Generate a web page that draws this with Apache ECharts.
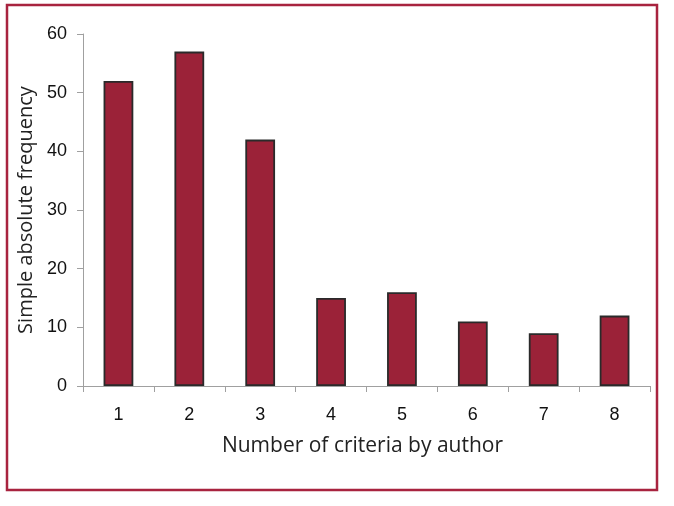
<!DOCTYPE html>
<html>
<head>
<meta charset="utf-8">
<script src="https://cdn.jsdelivr.net/npm/echarts@6/dist/echarts.min.js"></script>
<style>
html,body{margin:0;padding:0;background:#fff;}
#c{width:674px;height:506px;}
</style>
</head>
<body>
<div id="c"></div>
<script>
const categories = ['1','2','3','4','5','6','7','8'];
const frequency = [52, 57, 42, 15, 16, 11, 9, 12];
const yTicks = [0, 10, 20, 30, 40, 50, 60];

const chart = echarts.init(document.getElementById('c'), null, {renderer:'canvas'});
chart.setOption({
  animation: false,
  backgroundColor: '#fff',
  graphic: [{
    type: 'rect',
    shape: {x: 7, y: 5, width: 650, height: 485},
    style: {fill: 'none', stroke: '#a8233f', lineWidth: 2.5},
    silent: true
  }],
  grid: {left: 83, right: 24, top: 34, bottom: 120, containLabel: false},
  xAxis: {
    type: 'category',
    data: categories,
    name: 'Number of criteria by author',
    nameLocation: 'middle',
    nameGap: 50,
    nameTextStyle: {fontFamily: 'Open Sans', fontSize: 21, color: '#222', padding: [0, 8, 0, 0]},
    axisLine: {lineStyle: {color: '#a0a0a0', width: 1}},
    axisTick: {show: true, length: 6, inside: false, lineStyle: {color: '#a0a0a0'}},
    axisLabel: {margin: 20, fontFamily: 'Liberation Sans', fontSize: 18, color: '#111'},
    splitLine: {show: false}
  },
  yAxis: {
    type: 'value',
    min: yTicks[0],
    max: yTicks[yTicks.length - 1],
    interval: 10,
    name: 'Simple absolute frequency',
    nameLocation: 'middle',
    nameGap: 47,
    nameTextStyle: {fontFamily: 'Open Sans', fontSize: 20, color: '#222'},
    axisLine: {show: true, lineStyle: {color: '#a0a0a0', width: 1}},
    axisTick: {show: true, length: 6, lineStyle: {color: '#a0a0a0'}},
    axisLabel: {margin: 16, fontFamily: 'Liberation Sans', fontSize: 18, color: '#111'},
    splitLine: {show: false}
  },
  series: [{
    type: 'bar',
    data: frequency,
    barWidth: '42%',
    itemStyle: {color: '#9b2238', borderColor: '#2a2a2a', borderWidth: 1.8}
  }]
});
</script>
</body>
</html>
